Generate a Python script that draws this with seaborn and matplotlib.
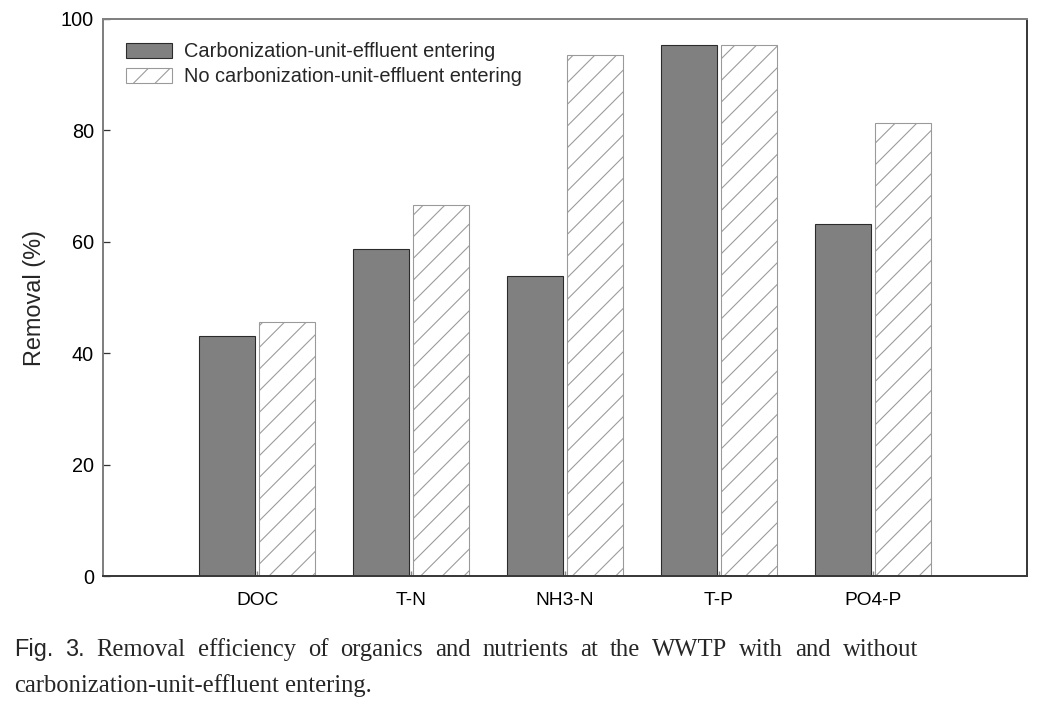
import numpy as np
import pandas as pd
import matplotlib
matplotlib.use("Agg")
import matplotlib.pyplot as plt
import seaborn as sns

# ---- data ----
categories = ["DOC", "T-N", "NH3-N", "T-P", "PO4-P"]
with_effluent = [43.1, 58.7, 53.9, 95.3, 63.2]
without_effluent = [45.6, 66.6, 93.5, 95.3, 81.3]
series_names = ["Carbonization-unit-effluent entering",
                "No carbonization-unit-effluent entering"]
y_ticks = [0, 20, 40, 60, 80, 100]
y_label = "Removal (%)"
caption_label = "Fig. 3."
caption_line1 = "Removal efficiency of organics and nutrients at the WWTP with and without"
caption_line2 = "carbonization-unit-effluent entering."

sns.set_theme(style="white")
plt.rcParams["font.family"] = ["Liberation Sans", "DejaVu Sans"]
plt.rcParams["hatch.linewidth"] = 0.6

DPI = 130
W, H = 1047, 702
fig = plt.figure(figsize=(W / DPI, H / DPI), dpi=DPI)
ax = fig.add_axes([103 / W, 1 - 576 / H, (1027 - 103) / W, (576 - 19) / H])

df = pd.DataFrame({
    "cat": categories * 2,
    "val": with_effluent + without_effluent,
    "series": [series_names[0]] * len(categories) + [series_names[1]] * len(categories),
})
sns.barplot(data=df, x="cat", y="val", hue="series", hue_order=series_names,
            order=categories, width=0.79, gap=0.08, ax=ax, legend=False,
            errorbar=None)

for p in ax.containers[0]:
    p.set_facecolor("#808080")
    p.set_edgecolor("#2b2b2b")
    p.set_linewidth(0.6)
for p in ax.containers[1]:
    p.set_facecolor("white")
    p.set_edgecolor("#9a9a9a")
    p.set_linewidth(0.6)
    p.set_hatch("//")

ax.set_xlim(-1, 5)
ax.set_ylim(0, 100)
ax.set_yticks(y_ticks)
ax.set_xlabel("")
ax.set_ylabel(y_label, fontsize=13, labelpad=8)

ax.tick_params(axis="y", direction="in", length=3.9, width=0.7, color="#333333",
               labelsize=11, pad=5, left=True, labelcolor="black")
ax.tick_params(axis="x", direction="in", length=2.5, width=0.8, color="#888888",
               labelsize=10.6, pad=9, bottom=True, labelcolor="black")

for side in ["left", "top"]:
    ax.spines[side].set_color("#808080")
    ax.spines[side].set_linewidth(1.1)
for side in ["bottom", "right"]:
    ax.spines[side].set_color("#3a3a3a")
    ax.spines[side].set_linewidth(1.1)
for s in ax.spines.values():
    s.set_visible(True)

handles = [ax.containers[0][0], ax.containers[1][0]]
ax.legend(handles, series_names, loc="upper left", bbox_to_anchor=(0.025, 0.958),
          frameon=False, fontsize=11.1, handlelength=2.3, handleheight=0.75,
          handletextpad=0.6, labelspacing=0.3, borderaxespad=0, borderpad=0)

# ---- caption (justified first line) ----
fig.canvas.draw()
renderer = fig.canvas.get_renderer()

def width_px(t):
    return t.get_window_extent(renderer).width

# size serif font so that the first word of line 2 spans ~263 px
probe = fig.text(0, 0, caption_line2.split()[0], family="Liberation Serif", fontsize=10)
serif_size = 10 * 263 / width_px(probe)
probe.remove()
sans_size = 13

words1 = [(w, "Liberation Sans", sans_size) for w in caption_label.split()] + \
         [(w, "Liberation Serif", serif_size) for w in caption_line1.split()]
words2 = [(w, "Liberation Serif", serif_size) for w in caption_line2.split()]

def justify(words, x0, x1, y):
    texts = [fig.text(0, y / H, w, family=f, fontsize=s, va="baseline", ha="left")
             for w, f, s in words]
    widths = [width_px(t) for t in texts]
    gap = (x1 - x0 - sum(widths)) / (len(texts) - 1)
    x = x0
    for t, w in zip(texts, widths):
        t.set_x(x / W)
        x += w + gap

justify(words1, 14, 918, H - 656)
justify(words2, 14, 372, H - 692)

fig.savefig("out.png", dpi=DPI)
